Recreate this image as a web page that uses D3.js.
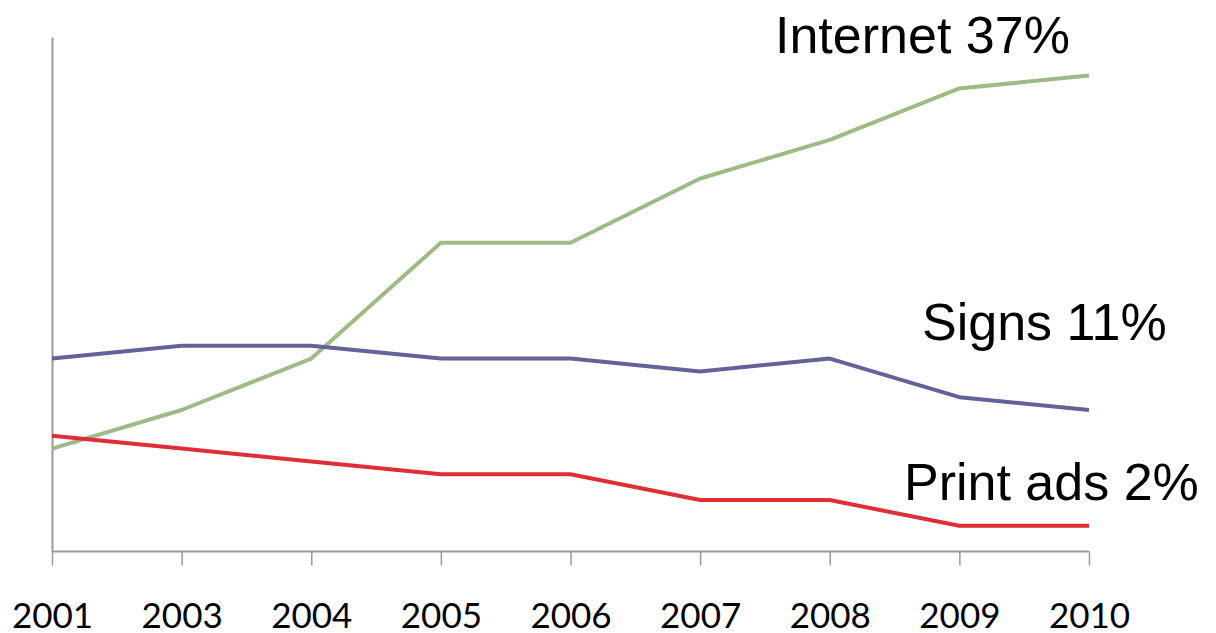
<!DOCTYPE html>
<html>
<head>
<meta charset="utf-8">
<script src="https://cdn.jsdelivr.net/npm/d3@7"></script>
<style>
  body { margin: 0; background: #fff; }
  svg { display: block; }
</style>
</head>
<body>
<div id="chart"></div>
<script>
var years = ['2001', '2003', '2004', '2005', '2006', '2007', '2008', '2009', '2010'];
var internet = [8, 11, 15, 24, 24, 29, 32, 36, 37];
var signs = [15, 16, 16, 15, 15, 14, 15, 12, 11];
var printAds = [9, 8, 7, 6, 6, 4, 4, 2, 2];
var seriesNames = ['Internet 37%', 'Signs 11%', 'Print ads 2%'];

var w = 1216, h = 633;

var svg = d3.select('#chart').append('svg')
  .attr('width', w).attr('height', h);

var x = d3.scalePoint().domain(years).range([52, 1089]);
var y = d3.scaleLinear().domain([0, 40]).range([551.5, 37]);

// x axis
var xAxis = svg.append('g')
  .attr('transform', 'translate(0,' + y(0) + ')')
  .call(d3.axisBottom(x).tickSize(14).tickSizeOuter(0).tickPadding(38));
xAxis.select('.domain').attr('stroke', '#999').attr('stroke-width', 2).attr('d', 'M52,0H1089');
xAxis.selectAll('.tick line').attr('stroke', '#999').attr('stroke-width', 1.5);
xAxis.selectAll('.tick text')
  .attr('font-family', 'Lato, sans-serif')
  .attr('font-size', '35px')
  .attr('fill', '#000');

// y axis (line only)
var yAxis = svg.append('g')
  .attr('transform', 'translate(52,0)')
  .call(d3.axisLeft(y).ticks(0).tickSizeOuter(0));
yAxis.select('.domain').attr('stroke', '#999').attr('stroke-width', 2);

var line = d3.line()
  .x(function(d, i) { return x(years[i]); })
  .y(function(d) { return y(d); });

var series = [
  { values: internet, color: '#9dbc85' },
  { values: signs, color: '#63639b' },
  { values: printAds, color: '#df2e35' }
];

svg.selectAll('path.series')
  .data(series)
  .enter()
  .append('path')
  .attr('class', 'series')
  .attr('d', function(d) { return line(d.values); })
  .attr('fill', 'none')
  .attr('stroke', function(d) { return d.color; })
  .attr('stroke-width', 4)
  .attr('stroke-linejoin', 'round');

// labels
var labelPos = [[775, 53], [922, 340], [904, 500]];
svg.selectAll('text.label')
  .data(seriesNames)
  .enter()
  .append('text')
  .attr('class', 'label')
  .attr('x', function(d, i) { return labelPos[i][0]; })
  .attr('y', function(d, i) { return labelPos[i][1]; })
  .attr('font-family', 'Liberation Sans, Arial, sans-serif')
  .attr('font-size', '52px')
  .attr('fill', '#000')
  .text(function(d) { return d; });
</script>
</body>
</html>
